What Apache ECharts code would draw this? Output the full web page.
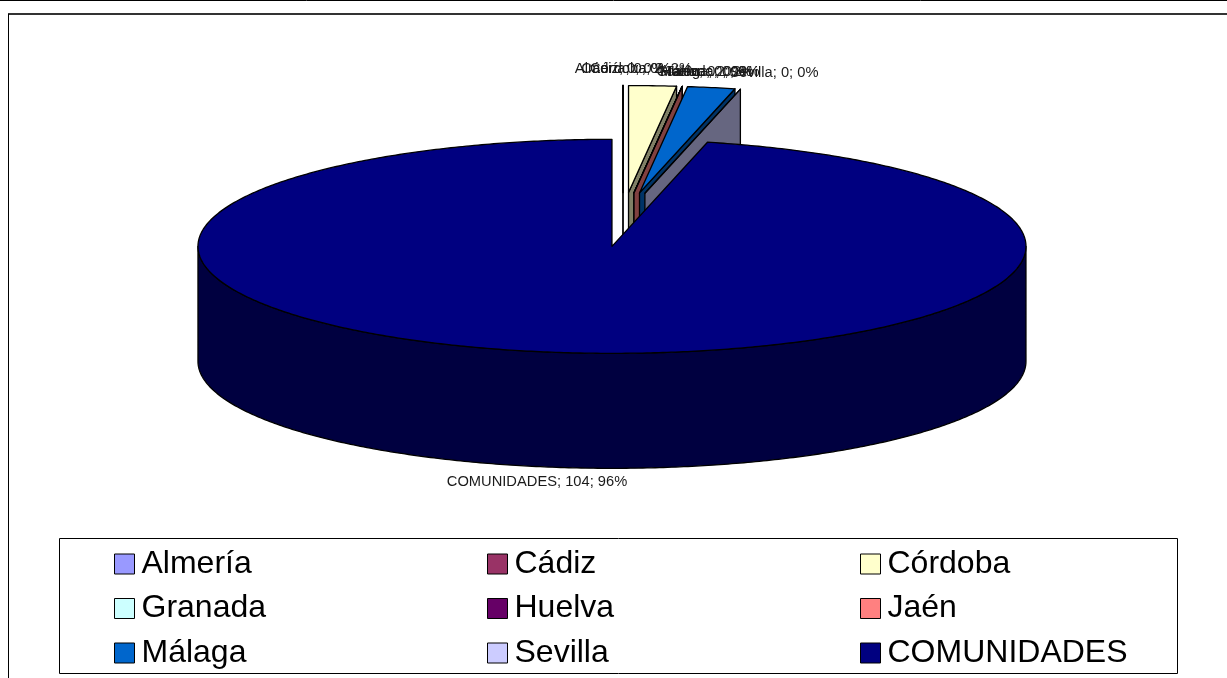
<!DOCTYPE html>
<html>
<head>
<meta charset="utf-8">
<style>html,body{margin:0;padding:0;background:#fff}#c{width:1227px;height:678px}</style>
<script src="https://cdn.jsdelivr.net/npm/echarts@6/dist/echarts.min.js"></script>
</head>
<body>
<div id="c"></div>
<script>
const categories = ['Almería','Cádiz','Córdoba','Granada','Huelva','Jaén','Málaga','Sevilla','COMUNIDADES'];
const values = [0,0,2,0,0,0,2,0,104];
const percents = [0,0,2,0,0,0,2,0,96];
const topColors = ['#9999FF','#993366','#FFFFCC','#CCFFFF','#660066','#FF8080','#0066CC','#CCCCFF','#000080'];
const wallColors = ['#4C4C80','#4C1933','#808066','#668080','#330033','#804040','#003366','#666680','#000040'];
const legendColumns = [[0,3,6],[1,4,7],[2,5,8]];

// Layout of the tilted pie
const CX = 623, CY = 219.5, RX = 414, RY = 107, DEPTH = 115, EXPLODE_X = 95, EXPLODE_Y = 27;
const labelAnchors = [[623,69],[623,69],[641,69],[708,71.5],[706,71.5],[706,71.5],[707,71.5],[774,73],[537,482]];

const total = values.reduce((a,b)=>a+b,0);
const starts = []; values.reduce((acc,v,i)=>(starts[i]=acc,acc+v),0);
const rad = v => v/total*2*Math.PI;

function renderSlice(params, api){
  const i = params.seriesIndex;
  const v = api.value(0);
  const a0 = rad(starts[i]), a1 = rad(starts[i]+v), mid = (a0+a1)/2;
  const ox = CX + EXPLODE_X*Math.sin(mid), oy = CY - EXPLODE_Y*Math.cos(mid);
  const pt = a => [ox + RX*Math.sin(a), oy - RY*Math.cos(a)];
  const steps = Math.max(2, Math.ceil((a1-a0)/0.01));
  const arc = []; for(let k=0;k<=steps;k++) arc.push(pt(a0+(a1-a0)*k/steps));
  const line = {stroke:'#000',lineWidth:1.3,lineJoin:'round'};
  const kids = [];
  const down = p => [p[0],p[1]+DEPTH];
  // cut wall at the end angle of the slice (visible on the small slices only)
  if(i<8){
    const e = pt(a1);
    kids.push({type:'polygon',shape:{points:[[ox,oy],e,down(e),[ox,oy+DEPTH]]},style:{fill:wallColors[i],...line}});
  }
  // outer rim, for the part facing the viewer
  const fa0 = Math.max(a0,Math.PI/2), fa1 = Math.min(a1,Math.PI*1.5);
  if(fa1>fa0){
    const rim=[]; const n=Math.ceil((fa1-fa0)/0.01);
    for(let k=0;k<=n;k++) rim.push(pt(fa0+(fa1-fa0)*k/n));
    const back = rim.slice().reverse().map(down);
    kids.push({type:'polygon',shape:{points:rim.concat(back)},style:{fill:wallColors[i],...line}});
  }
  // top face
  kids.push({type:'polygon',shape:{points:[[ox,oy]].concat(arc)},style:{fill:topColors[i],...line}});
  // data label
  kids.push({type:'text',style:{text:categories[i]+'; '+v+'; '+percents[i]+'%',
    x:labelAnchors[i][0],y:labelAnchors[i][1],align:'center',verticalAlign:'middle',
    font:'14.7px "Liberation Sans"',fill:'#1a1a1a'},z2:10});
  return {type:'group',children:kids};
}

const series = categories.map((name,i)=>({
  type:'custom',coordinateSystem:'none',name,renderItem:renderSlice,data:[[values[i]]],clip:false,silent:true,
  itemStyle:{color:topColors[i]},animation:false
}));

const legend = legendColumns.map((col,c)=>({
  orient:'vertical',left:[114,487,860][c],top:548,
  itemWidth:20,itemHeight:20,itemGap:12.5,icon:'rect',
  selectedMode:false,padding:0,
  textStyle:{fontFamily:'Liberation Sans',fontSize:32,lineHeight:32,color:'#000',padding:[0,0,0,2]},
  data:col.map(i=>({name:categories[i],icon:'rect',
    itemStyle:{color:topColors[i],borderColor:'#000',borderWidth:1}}))
}));

const chart = echarts.init(document.getElementById('c'),null,{renderer:'canvas'});
chart.setOption({
  animation:false,
  backgroundColor:'#fff',
  legend,
  series,
  graphic:[
    {type:'line',shape:{x1:0,y1:0.5,x2:1227,y2:0.5},style:{stroke:'#000',lineWidth:1},z:-1},
    {type:'line',shape:{x1:8,y1:14,x2:1227,y2:14},style:{stroke:'#333',lineWidth:2},z:-1},
    {type:'line',shape:{x1:8.5,y1:14,x2:8.5,y2:678},style:{stroke:'#000',lineWidth:1},z:-1},
    {type:'rect',shape:{x:59.5,y:538.5,width:1118,height:135},style:{fill:'#fff',stroke:'#000',lineWidth:1},z:-1}
  ]
});
</script>
</body>
</html>
